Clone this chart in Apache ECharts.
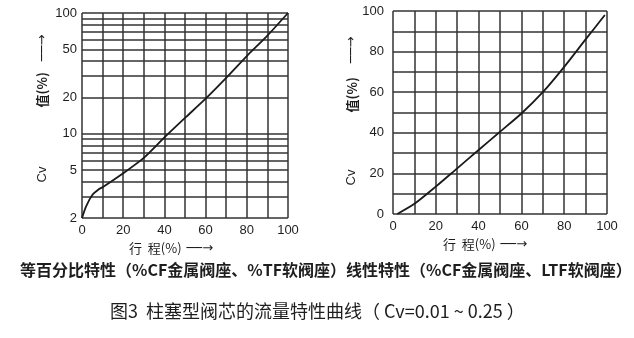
<!DOCTYPE html>
<html><head><meta charset="utf-8">
<script src="https://cdn.jsdelivr.net/npm/echarts@6/dist/echarts.min.js"></script>
<style>html,body{margin:0;padding:0;background:#fff}#c{width:634px;height:338px}</style>
</head><body><div id="c"></div>
<script>
// ---- data ----
// Left: equal-percentage characteristic (log Cv scale)
const leftTravel = [0, 2, 5, 8, 10, 20, 30, 40, 50, 60, 70, 80, 90, 100];
const leftCv     = [2, 2.5, 3.1, 3.45, 3.6, 4.7, 6.3, 9.3, 13.5, 19.5, 29, 44, 65, 100];
// Right: linear characteristic
const rightTravel = [2, 10, 20, 30, 40, 50, 60, 70, 80, 90, 99];
const rightCv     = [0, 5, 13.5, 22.5, 31.5, 40.5, 49.5, 60, 72.5, 86, 98];
// grid / tick values
const leftGridValues = [2, 3, 4, 5, 6, 7, 8, 9, 10, 20, 30, 40, 50, 60, 70, 80, 90, 100];
const leftTickLabels = [2, 5, 10, 20, 50, 100];
const xTickLabels = [0, 20, 40, 60, 80, 100];
const rightYTickLabels = [0, 20, 40, 60, 80, 100];
// texts
const caption1 = '等百分比特性（%CF金属阀座、%TF软阀座）线性特性（%CF金属阀座、LTF软阀座）';
const caption2 = '图3  柱塞型阀芯的流量特性曲线（ Cv=0.01 ~ 0.25 ）';

const GRID_COLOR = '#333';
const GRID_W = 1.5;
const TXT = '#1e1e1e';
const numFont = 'Liberation Sans, Arial, sans-serif';
const cjkFont = '"Noto Sans CJK SC", sans-serif';
const arrowFont = '"DejaVu Sans", sans-serif';

const chart = echarts.init(document.getElementById('c'), null, {renderer: 'canvas'});

const xNameRich = {
  t: {fontSize: 13, fontFamily: cjkFont, color: TXT},
  g: {width: 5},
  a: {fontSize: 13, fontFamily: arrowFont, color: TXT}
};
const xName = '{t|行  程(%)}{g| }{a|──→}';

function xAxisCfg(gridIndex, padRight) {
  return {
    type: 'value', gridIndex, min: 0, max: 100, interval: 10,
    axisLine: {show: false}, axisTick: {show: false},
    splitLine: {show: true, lineStyle: {color: GRID_COLOR, width: GRID_W}},
    axisLabel: {
      margin: 6, fontSize: 13, color: TXT, fontFamily: numFont,
      formatter: v => xTickLabels.indexOf(v) >= 0 ? String(v) : ''
    },
    name: xName, nameLocation: 'middle', nameGap: 21,
    nameTextStyle: {rich: xNameRich, padding: [0, padRight, 0, 0]}
  };
}

function yNameRich(g1, g2) {
  return {
    cv: {fontSize: 13, fontFamily: numFont, color: TXT},
    g1: {width: g1},
    v: {fontSize: 13, fontFamily: cjkFont, color: TXT, fontWeight: 'bold'},
    g2: {width: g2},
    a: {fontSize: 13, fontFamily: arrowFont, color: TXT}
  };
}
const yName = '{cv|Cv}{g1| }{v|值(%)}{g2| }{a|──→}';

const option = {
  animation: false,
  backgroundColor: '#fff',
  title: [
    {text: caption1, left: 20, top: 262, padding: 0,
     textStyle: {fontSize: 16, fontWeight: 'bold', fontFamily: cjkFont, color: TXT}},
    {text: caption2, left: 110, top: 302, padding: 0,
     textStyle: {fontSize: 18, fontWeight: 'normal', fontFamily: cjkFont, color: TXT}}
  ],
  grid: [
    {left: 82, top: 13, width: 206, height: 205},
    {left: 393, top: 11, width: 214, height: 203}
  ],
  xAxis: [xAxisCfg(0, 28), xAxisCfg(1, 30)],
  yAxis: [
    {
      type: 'log', gridIndex: 0, min: 2, max: 100, logBase: 10,
      axisLine: {show: false}, axisTick: {show: false},
      axisLabel: {show: false}, splitLine: {show: false},
      name: yName, nameLocation: 'middle', nameRotate: 90, nameGap: 33,
      nameTextStyle: {rich: yNameRich(59, 11), padding: [0, 0, 0, 14]}
    },
    {
      type: 'value', gridIndex: 1, min: 0, max: 100, interval: 10,
      axisLine: {show: false}, axisTick: {show: false},
      splitLine: {show: true, lineStyle: {color: GRID_COLOR, width: GRID_W}},
      axisLabel: {
        margin: 9, fontSize: 13, color: TXT, fontFamily: numFont,
        formatter: v => rightYTickLabels.indexOf(v) >= 0 ? String(v) : ''
      },
      name: yName, nameLocation: 'middle', nameRotate: 90, nameGap: 33,
      nameTextStyle: {rich: yNameRich(57, 14), padding: [0, 0, 0, 3]}
    }
  ],
  series: [
    {
      type: 'line', xAxisIndex: 0, yAxisIndex: 0,
      data: leftTravel.map((t, i) => [t, leftCv[i]]),
      showSymbol: false, smooth: 0.25,
      lineStyle: {color: '#1a1a1a', width: 1.8},
      markLine: {
        silent: true, symbol: ['none', 'none'], animation: false,
        lineStyle: {color: GRID_COLOR, width: GRID_W, type: 'solid'},
        label: {show: false},
        emphasis: {disabled: true},
        data: leftGridValues.map(v => ({
          yAxis: v,
          label: leftTickLabels.indexOf(v) >= 0 ? {
            show: true, position: 'start', distance: 5, formatter: String(v),
            fontSize: 13, color: TXT, fontFamily: numFont
          } : {show: false}
        }))
      },
      z: 5
    },
    {
      type: 'line', xAxisIndex: 1, yAxisIndex: 1,
      data: rightTravel.map((t, i) => [t, rightCv[i]]),
      showSymbol: false, smooth: 0.25,
      lineStyle: {color: '#1a1a1a', width: 1.8},
      z: 5
    }
  ]
};
chart.setOption(option);
</script>
</body></html>
